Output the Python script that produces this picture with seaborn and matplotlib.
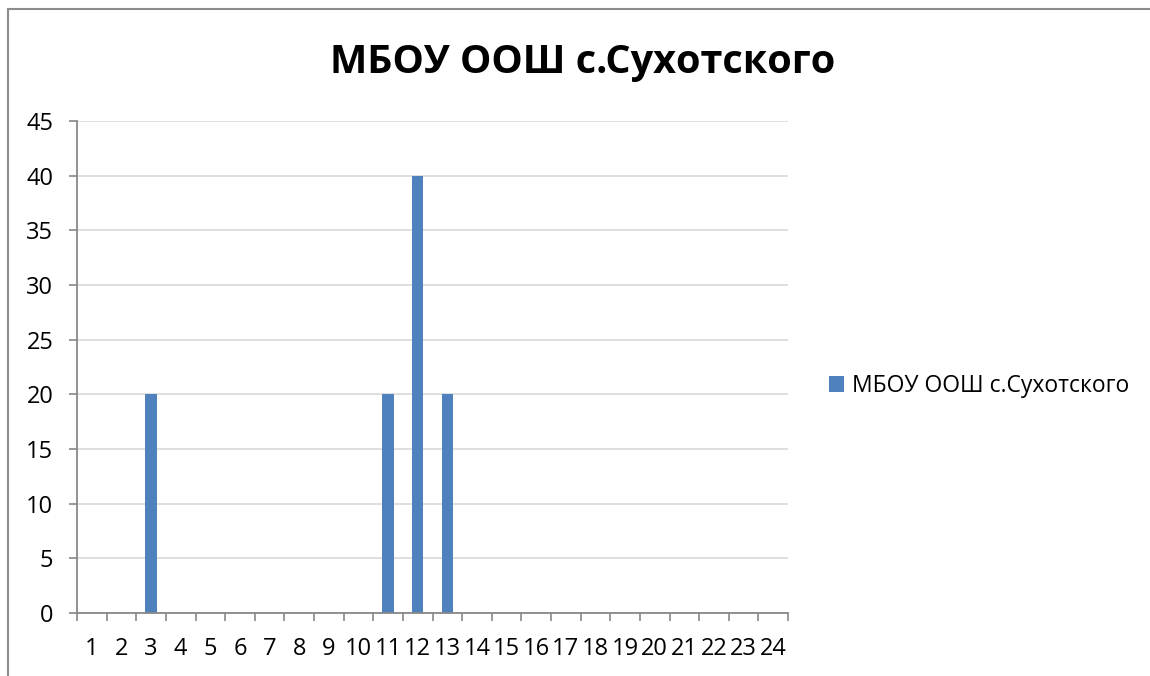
import matplotlib
matplotlib.use("Agg")
import matplotlib.pyplot as plt
import seaborn as sns
import pandas as pd
from matplotlib.patches import Rectangle

title = "МБОУ ООШ с.Сухотского"
series_name = "МБОУ ООШ с.Сухотского"
categories = [str(i) for i in range(1, 25)]
values = [0, 0, 20, 0, 0, 0, 0, 0, 0, 0, 20, 40, 20, 0, 0, 0, 0, 0, 0, 0, 0, 0, 0, 0]
y_ticks = [0, 5, 10, 15, 20, 25, 30, 35, 40, 45]

sns.set_theme(style="white")
plt.rcParams['font.family'] = ['Open Sans', 'DejaVu Sans']

W, H = 1150, 676
fig = plt.figure(figsize=(W / 100, H / 100), dpi=100)
ax = fig.add_axes([77 / W, 1 - 613 / H, (788 - 77) / W, (613 - 121) / H])

df = pd.DataFrame({"cat": categories, "val": values})
sns.barplot(data=df, x="cat", y="val", color="#4F81BD", width=0.38,
            label=series_name, ax=ax, saturation=1, linewidth=0)

ax.set_xlim(-0.5, len(categories) - 0.5)
ax.set_ylim(0, 45)
ax.set_yticks(y_ticks)
ax.set_yticklabels([str(v) for v in y_ticks])
ax.set_xlabel("")
ax.set_ylabel("")

ax.yaxis.grid(True, color="#D9D9D9", linewidth=1.2)
ax.set_axisbelow(True)
for s in ["top", "right"]:
    ax.spines[s].set_visible(False)
for s in ["left", "bottom"]:
    ax.spines[s].set_color("#888888")
    ax.spines[s].set_linewidth(1.3)

ax.tick_params(axis="y", which="major", left=True, length=6, width=1.2, color="#888888",
               labelsize=17, pad=11, labelcolor="black")
ax.tick_params(axis="x", which="major", bottom=False, length=0, labelsize=17, pad=17,
               labelcolor="black")
ax.set_xticks([i - 0.5 for i in range(len(categories) + 1)], minor=True)
ax.tick_params(axis="x", which="minor", bottom=True, length=6, width=1.2, color="#888888")

fig.text(583 / W, 1 - 62 / H, title, ha="center", va="center", fontsize=28.5,
         fontweight="bold", color="black")

ax.legend(loc="center left", bbox_to_anchor=(829 / W, 1 - 386 / H),
          bbox_transform=fig.transFigure, frameon=False, fontsize=16.5,
          handlelength=0.65, handleheight=0.65, handletextpad=0.35,
          borderpad=0, borderaxespad=0, labelcolor="black")

fig.patches.append(Rectangle((8 / W, -0.1), 1.2, (H - 9) / H + 0.1,
                             transform=fig.transFigure, fill=False,
                             edgecolor="#8C8C8C", linewidth=1.5, zorder=-1))

fig.savefig("out.png", dpi=100, facecolor="white")
